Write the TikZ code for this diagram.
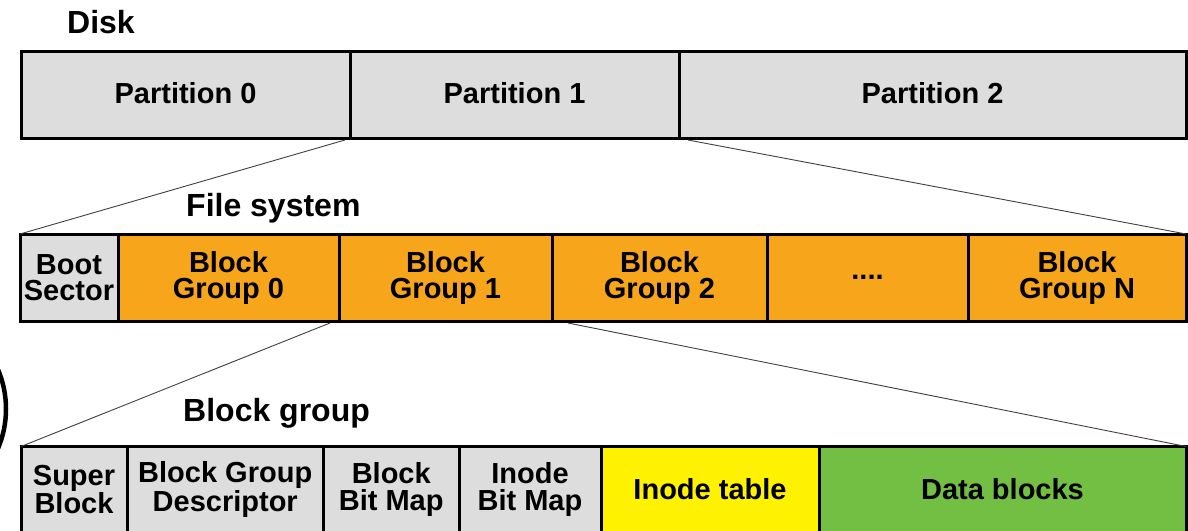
\documentclass[tikz,border=0pt]{standalone}
\usepackage{fontspec}
\setmainfont{Liberation Sans}
\usetikzlibrary{calc}
\definecolor{cellgray}{HTML}{DDDDDD}
\definecolor{bgorange}{HTML}{F7A61C}
\definecolor{inodeyellow}{HTML}{FFF200}
\definecolor{datagreen}{HTML}{72BF44}
\tikzset{
  cell/.style={draw=black, line width=3pt, inner sep=0pt, outer sep=0pt,
    anchor=north west, align=center,
    font=\bfseries\fontsize{29}{26.5}\selectfont},
  title/.style={anchor=base west, inner sep=0pt,
    font=\bfseries\fontsize{32}{36}\selectfont},
  zoomline/.style={draw=black!75, line width=0.9pt}
}
\begin{document}
\begin{tikzpicture}[x=1pt,y=-1pt]
\useasboundingbox (0,0) rectangle (1188,530);
\clip (0,0) rectangle (1188,530);
\fill[white] (0,0) rectangle (1188,530);

% section titles
\node[title] (tdisk) at (67,33) {Disk};
\node[title] (tfs) at (186,216.7) {File system};
\node[title] (tbg) at (183,421.7) {Block group};

% disk with its partitions
\node[cell, fill=cellgray, minimum width=329, minimum height=87, text depth=4pt] (part0) at (21,51.5) {Partition 0};
\node[cell, fill=cellgray, minimum width=329, minimum height=87, text depth=4pt] (part1) at (350,51.5) {Partition 1};
\node[cell, fill=cellgray, minimum width=507, minimum height=87, text depth=4pt] (part2) at (679,51.5) {Partition 2};

% file system inside a partition
\node[cell, fill=cellgray, minimum width=98, minimum height=87.5] (boot) at (20,234) {Boot\\Sector};
\node[cell, fill=bgorange, minimum width=221, minimum height=87.5] (bgz) at (118,234) {Block\\Group 0};
\node[cell, fill=bgorange, minimum width=213, minimum height=87.5] (bgo) at (339,234) {Block\\Group 1};
\node[cell, fill=bgorange, minimum width=215, minimum height=87.5] (bgt) at (552,234) {Block\\Group 2};
\node[cell, fill=bgorange, minimum width=201, minimum height=87.5] (bgdots) at (767,234) {....};
\node[cell, fill=bgorange, minimum width=218, minimum height=87.5] (bgn) at (968,234) {Block\\Group N};

% contents of one block group
\node[cell, fill=cellgray, minimum width=106, minimum height=86] (sb) at (21,446.5) {Super\\Block};
\node[cell, fill=cellgray, minimum width=196.5, minimum height=86] (bgd) at (127,446.5) {Block Group\\Descriptor};
\node[cell, fill=cellgray, minimum width=135.5, minimum height=86] (bbm) at (323.5,446.5) {Block\\Bit Map};
\node[cell, fill=cellgray, minimum width=142, minimum height=86] (ibm) at (459,446.5) {Inode\\Bit Map};
\node[cell, fill=inodeyellow, minimum width=218, minimum height=86] (itab) at (601,446.5) {Inode table};
\node[cell, fill=datagreen, minimum width=367, minimum height=86] (data) at (819,446.5) {Data blocks};

% zoom-in lines between levels
\draw[zoomline] ($(part1.south west)+(-5,1.5)$) -- (boot.north west);
\draw[zoomline] ($(part2.south west)+(9,1.5)$) -- (bgn.north east);
\draw[zoomline] ($(bgo.south west)+(-9,1.5)$) -- (sb.north west);
\draw[zoomline] ($(bgt.south west)+(16,1.5)$) -- (data.north east);

% ring cut by the left edge
\draw[line width=4.5pt] (-95,409) circle (101);
\end{tikzpicture}
\end{document}
